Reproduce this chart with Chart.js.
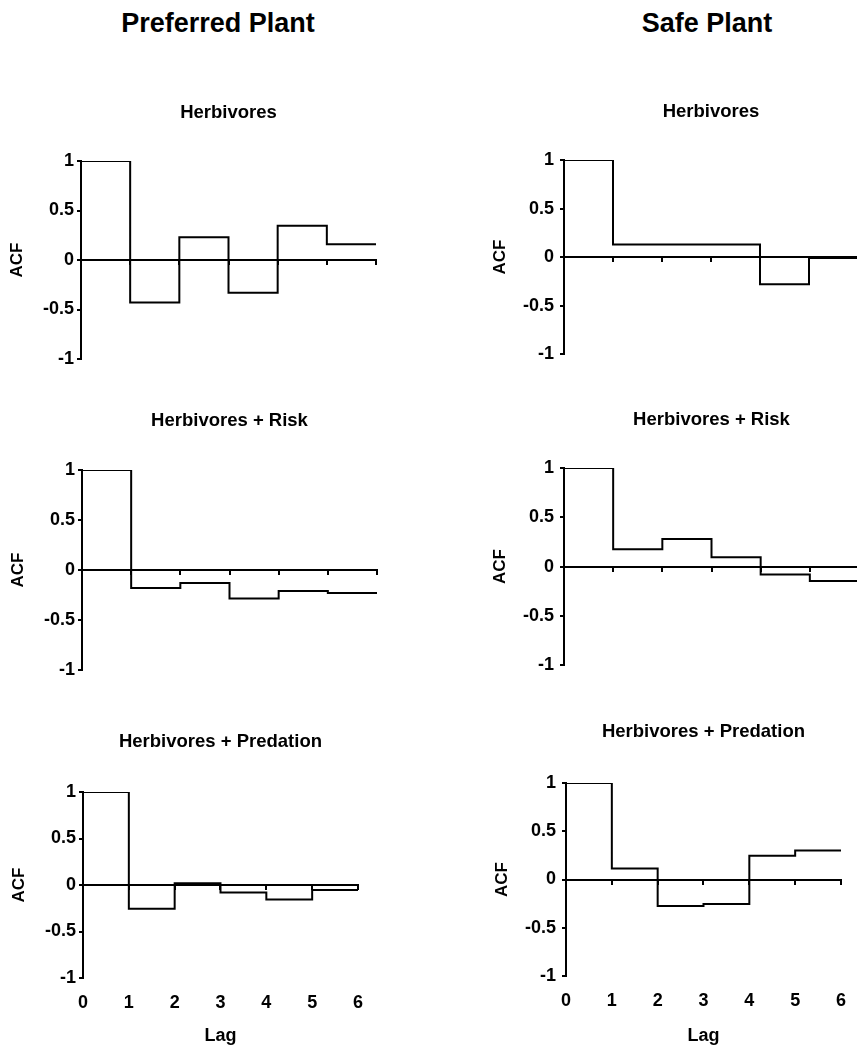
<!DOCTYPE html>
<html lang="en">
<head>
    <meta charset="UTF-8">
    <title>ACF by plant and treatment</title>
    <style>
        body {
            margin: 0;
            width: 857px;
            height: 1048px;
            overflow: hidden;
            background: #fff;
            position: relative;
            font-family: "Liberation Sans", Arial, sans-serif;
        }
        .col-title {
            position: absolute;
            top: 10px;
            width: 400px;
            text-align: center;
            font-size: 27px;
            line-height: 27px;
            font-weight: bold;
            color: #000;
        }
        canvas {
            position: absolute;
        }
    </style>
</head>
<body>
    <div class="col-title" id="titleLeft"></div>
    <div class="col-title" id="titleRight"></div>

    <script src="https://cdn.jsdelivr.net/npm/chart.js"></script>
    <script>
        // x ticks (lags) and y ticks
        const lags = [0, 1, 2, 3, 4, 5, 6];
        const yTicks = [-1, -0.5, 0, 0.5, 1];

        const columnTitles = ['Preferred Plant', 'Safe Plant'];
        const panelTitles = ['Herbivores', 'Herbivores + Risk', 'Herbivores + Predation'];

        // ACF at lags 0..5, each value held until the next lag
        const prefHerb = [1, -0.43, 0.23, -0.33, 0.345, 0.16];
        const prefRisk = [1, -0.18, -0.13, -0.285, -0.21, -0.23];
        const prefPred = [1, -0.255, 0.02, -0.08, -0.155, -0.055];
        const safeHerb = [1, 0.13, 0.13, 0.13, -0.28, -0.01];
        const safeRisk = [1, 0.175, 0.28, 0.095, -0.08, -0.145];
        const safePred = [1, 0.115, -0.275, -0.255, 0.245, 0.30];

        // where each plot area sits on the page
        const panels = [
            { values: prefHerb, title: 0, left: 81,  right: 376, top: 161, bottom: 359, base: 120, lastRow: false },
            { values: safeHerb, title: 0, left: 564, right: 858, top: 160, bottom: 357, base: 119, lastRow: false },
            { values: prefRisk, title: 1, left: 82,  right: 377, top: 470, bottom: 670, base: 428, lastRow: false },
            { values: safeRisk, title: 1, left: 564, right: 859, top: 468, bottom: 668, base: 427, lastRow: false },
            { values: prefPred, title: 2, left: 83,  right: 369, top: 792, bottom: 978, base: 749, lastRow: true },
            { values: safePred, title: 2, left: 566, right: 852, top: 783, bottom: 976, base: 739, lastRow: true }
        ];

        document.getElementById('titleLeft').textContent = columnTitles[0];
        document.getElementById('titleLeft').style.left = (218 - 200) + 'px';
        document.getElementById('titleRight').textContent = columnTitles[1];
        document.getElementById('titleRight').style.left = (707 - 200) + 'px';

        Chart.defaults.font.family = '"Liberation Sans", Arial, sans-serif';
        Chart.defaults.font.weight = 'bold';
        Chart.defaults.color = '#000';

        const AXIS_W = 82;     // room for ACF label + tick labels
        const PAD_R = 8;
        const TITLE_FONT = 18.5;
        const TITLE_TOP = 4;

        panels.forEach(p => {
            const canvas = document.createElement('canvas');
            document.body.appendChild(canvas);

            // subtitle middle sits ~6px above its baseline
            const titleMid = p.base - 6.5;
            const canvasTop = Math.round(titleMid - TITLE_TOP - TITLE_FONT * 1.2 / 2);
            const titleBottomPad = p.top - canvasTop - TITLE_TOP - TITLE_FONT * 1.2;
            const canvasBottom = p.lastRow ? 1048 : p.bottom + 14;
            const canvasLeft = p.left - AXIS_W;

            canvas.width = (p.right - p.left) + AXIS_W + PAD_R;
            canvas.height = canvasBottom - canvasTop;
            canvas.style.left = canvasLeft + 'px';
            canvas.style.top = canvasTop + 'px';

            const points = lags.map((lag, i) => ({ x: lag, y: p.values[Math.min(i, p.values.length - 1)] }));

            new Chart(canvas.getContext('2d'), {
                type: 'line',
                data: {
                    datasets: [{
                        data: points,
                        xAxisID: 'x',
                        yAxisID: 'y',
                        stepped: true,
                        borderColor: '#000',
                        borderWidth: 2,
                        pointRadius: 0,
                        fill: false
                    }]
                },
                options: {
                    responsive: false,
                    animation: false,
                    events: [],
                    layout: { padding: { left: 0, right: PAD_R, top: 0, bottom: p.lastRow ? 0 : 14 } },
                    plugins: {
                        legend: { display: false },
                        tooltip: { enabled: false },
                        title: {
                            display: true,
                            text: panelTitles[p.title],
                            fullSize: false,
                            color: '#000',
                            font: { size: TITLE_FONT, weight: 'bold' },
                            padding: { top: TITLE_TOP, bottom: titleBottomPad }
                        }
                    },
                    scales: {
                        y: {
                            type: 'linear',
                            min: -1,
                            max: 1,
                            afterBuildTicks: s => { s.ticks = yTicks.map(v => ({ value: v })); },
                            afterFit: s => { s.width = AXIS_W; },
                            border: { display: true, color: '#000', width: 2 },
                            grid: { drawOnChartArea: false, drawTicks: true, tickLength: 4, color: '#000', lineWidth: 2 },
                            ticks: {
                                font: { size: 18, weight: 'bold' },
                                padding: p.left > 400 ? 6 : 3,
                                color: '#000',
                                callback: v => String(v)
                            },
                            title: {
                                display: true,
                                text: 'ACF',
                                color: '#000',
                                font: { size: 17, weight: 'bold' },
                                padding: { top: 8, bottom: 0 }
                            }
                        },
                        // zero line with lag ticks
                        x: {
                            type: 'linear',
                            axis: 'x',
                            min: 0,
                            max: 6,
                            position: { y: 0 },
                            afterBuildTicks: s => { s.ticks = lags.map(v => ({ value: v })); },
                            border: { display: true, color: '#000', width: 2 },
                            grid: { drawOnChartArea: false, drawTicks: true, tickLength: 4, color: '#000', lineWidth: 2 },
                            ticks: { display: false }
                        },
                        // lag labels under the bottom row
                        xb: {
                            type: 'linear',
                            axis: 'x',
                            display: p.lastRow,
                            position: 'bottom',
                            min: 0,
                            max: 6,
                            afterBuildTicks: s => { s.ticks = lags.map(v => ({ value: v })); },
                            afterFit: s => { if (p.lastRow) s.height = 1048 - p.bottom; },
                            border: { display: false },
                            grid: { display: false, drawTicks: false },
                            ticks: {
                                font: { size: 18, weight: 'bold' },
                                padding: 14,
                                color: '#000',
                                callback: v => String(v)
                            },
                            title: {
                                display: true,
                                text: 'Lag',
                                color: '#000',
                                font: { size: 18, weight: 'bold' },
                                padding: { top: 0, bottom: 1 }
                            }
                        }
                    }
                }
            });
        });
    </script>
</body>
</html>
